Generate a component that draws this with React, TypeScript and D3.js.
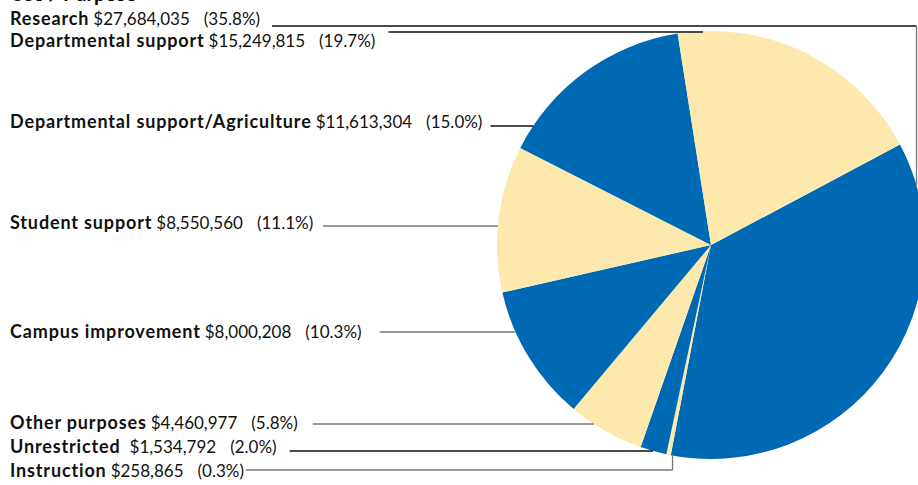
import React, { useEffect, useRef } from "react";
import * as d3 from "d3";

const names = [
  "Research",
  "Instruction",
  "Unrestricted",
  "Other purposes",
  "Campus improvement",
  "Student support",
  "Departmental support/Agriculture",
  "Departmental support",
];
const amounts = [27684035, 258865, 1534792, 4460977, 8000208, 8550560, 11613304, 15249815];
const percents = ["35.8%", "0.3%", "2.0%", "5.8%", "10.3%", "11.1%", "15.0%", "19.7%"];
const colors = ["#0069b4", "#fde9ad", "#0069b4", "#fde9ad", "#0069b4", "#fde9ad", "#0069b4", "#fde9ad"];

// label rows, top to bottom (index into the arrays above)
const labelOrder = [0, 7, 6, 5, 4, 3, 2, 1];
const labelBaselines = [25, 47, 128, 229, 338, 429, 453, 477];
const lineYs = [26, 32, 126, 226, 332, 424, 451, 470];
const lineGaps = [12, 13, 8, 10, 18, 15, 13, 2];
const lineColors = ["#111", "#111", "#111", "#777", "#777", "#777", "#111", "#777"];

export default function App() {
  const ref = useRef<SVGSVGElement>(null);

  useEffect(() => {
    document.body.style.margin = "0";
    const width = 918;
    const cx = 711,
      cy = 245,
      r = 214;
    const start = (62 * Math.PI) / 180;

    const svg = d3.select(ref.current);
    svg.selectAll("*").remove();

    const pie = d3
      .pie<number>()
      .sort(null)
      .value((d) => d)
      .startAngle(start)
      .endAngle(start + 2 * Math.PI);
    const arcs = pie(amounts);
    const arc = d3.arc<d3.PieArcDatum<number>>().innerRadius(0).outerRadius(r);

    svg
      .append("g")
      .attr("transform", `translate(${cx},${cy})`)
      .selectAll("path")
      .data(arcs)
      .join("path")
      .attr("fill", (d, i) => colors[i])
      .attr("d", arc);

    // title, clipped at the top
    svg
      .append("text")
      .attr("x", 10)
      .attr("y", 1)
      .attr("font-family", "Lato, sans-serif")
      .attr("font-weight", 700)
      .attr("font-size", 20)
      .text("Use / Purpose");

    const fmt = d3.format("$,");
    const edgeX = (y: number) => cx - Math.sqrt(Math.max(0, r * r - (y - cy) * (y - cy)));

    labelOrder.forEach((idx, row) => {
      const t = svg
        .append("text")
        .attr("x", 10)
        .attr("y", labelBaselines[row])
        .attr("font-family", "Lato, sans-serif")
        .attr("font-size", 17)
        .attr("fill", "#111");
      t.append("tspan")
        .attr("font-weight", 700)
        .attr("font-size", 18)
        .attr("letter-spacing", 0.85)
        .text(names[idx]);
      t.append("tspan").attr("dx", idx === 2 ? 9 : 4).text(fmt(amounts[idx]));
      t.append("tspan").attr("dx", 14).text(`(${percents[idx]})`);

      const bb = (t.node() as SVGTextElement).getBBox();
      const x0 = bb.x + bb.width + lineGaps[row];
      const y = lineYs[row];
      const a = arcs[idx];
      const g = svg.append("g").attr("stroke", lineColors[row]).attr("stroke-width", 1.3).attr("fill", "none");

      if (idx === 0) {
        // research: run to the right edge, then down to the pie
        const xr = width - 1.5;
        const yEnd = cy - Math.sqrt(r * r - (xr - cx) * (xr - cx));
        g.append("path").attr("d", `M${x0},${y}H${xr}`).attr("stroke", "#111");
        g.append("path").attr("d", `M${xr},${y}V${yEnd}`).attr("stroke", "#777");
      } else if (idx === 7) {
        g.append("path").attr("d", `M${x0},${y}H${cx - 8}`);
      } else if (idx === 1) {
        const mid = (a.startAngle + a.endAngle) / 2;
        const px = cx + r * Math.sin(mid);
        const py = cy - r * Math.cos(mid);
        g.append("path").attr("d", `M${x0},${y}H${px + 4}M${px + 4},${y}V${py}`);
      } else {
        g.append("path").attr("d", `M${x0},${y}H${edgeX(y)}`);
      }
    });
  }, []);

  return <svg ref={ref} width={918} height={485} style={{ display: "block" }} />;
}
